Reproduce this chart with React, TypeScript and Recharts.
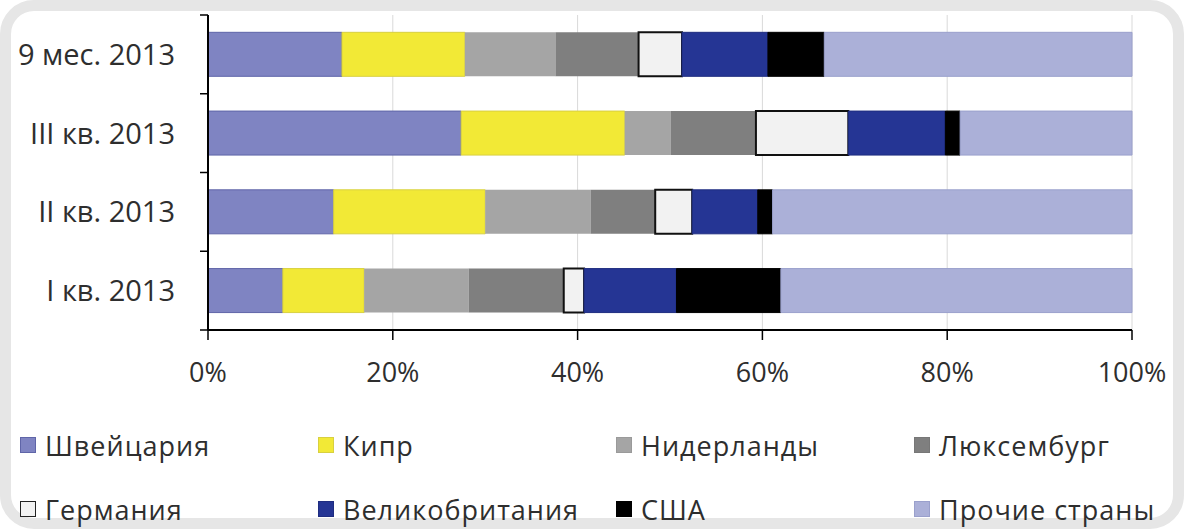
import React from "react";
import { Bar, BarChart, CartesianGrid, Legend, XAxis, YAxis } from "recharts";

const periods = ["9 мес. 2013", "III кв. 2013", "II кв. 2013", "I кв. 2013"];

const countries = [
  "Швейцария",
  "Кипр",
  "Нидерланды",
  "Люксембург",
  "Германия",
  "Великобритания",
  "США",
  "Прочие страны",
];

// shares by period, in the same order as periods
const switzerland = [14.5, 27.4, 13.6, 8.1];
const cyprus = [13.3, 17.7, 16.4, 8.8];
const netherlands = [9.8, 5.0, 11.4, 11.3];
const luxembourg = [9.0, 9.2, 7.0, 10.3];
const germany = [4.7, 10.0, 4.0, 2.2];
const britain = [9.3, 10.5, 7.1, 10.0];
const usa = [6.1, 1.6, 1.6, 11.3];
const others = [33.3, 18.6, 38.9, 38.0];

const xTicks = [0, 20, 40, 60, 80, 100];

const values = [switzerland, cyprus, netherlands, luxembourg, germany, britain, usa, others];
const fills = ["#7f84c2", "#f2e936", "#a5a5a5", "#7f7f7f", "#f2f2f2", "#253594", "#000000", "#abb0d8"];
const strokes = ["#5f65a8", "#d8d040", "#9a9a9a", "#777777", "#111111", "#1f2d80", "#000000", "#9aa0cc"];
const strokeWidths = [1, 1, 0, 0, 2, 1, 1, 1];

const data = periods.map((period, i) => {
  const row: Record<string, string | number> = { period };
  countries.forEach((c, k) => {
    row[c] = values[k][i];
  });
  return row;
});

const font = "'Open Sans', 'Noto Sans', sans-serif";
const textColor = "#2e2e2e";
const yTickSize = 8;
const yTickMargin = 25;

// category label plus the small tick marks between categories
function PeriodTick(props: any) {
  const { x, y, payload, index, visibleTicksCount, height } = props;
  const band = height / visibleTicksCount;
  const lineX1 = x + yTickMargin;
  const lineX2 = lineX1 + yTickSize;
  return (
    <g>
      <line x1={lineX1} x2={lineX2} y1={y - band / 2} y2={y - band / 2} stroke="#000" strokeWidth={1.5} />
      {index === visibleTicksCount - 1 && (
        <line x1={lineX1} x2={lineX2} y1={y + band / 2} y2={y + band / 2} stroke="#000" strokeWidth={1.5} />
      )}
      <text x={x} y={y} dy="0.36em" textAnchor="end" fill={textColor} fontSize={29} fontFamily={font}>
        {payload.value}
      </text>
    </g>
  );
}

function LegendGrid() {
  return (
    <div
      style={{
        display: "grid",
        gridTemplateColumns: "298px 298px 298px 280px",
        rowGap: 34,
        fontFamily: font,
        fontSize: 27,
        color: textColor,
        letterSpacing: 1,
      }}
    >
      {countries.map((c, k) => (
        <div key={c} style={{ display: "flex", alignItems: "center", height: 30 }}>
          <span
            style={{
              display: "inline-block",
              width: 16,
              height: 16,
              background: fills[k],
              border: `1.5px solid ${k === 4 ? "#222" : strokes[k]}`,
              marginRight: 9,
              boxSizing: "border-box",
            }}
          />
          {c}
        </div>
      ))}
    </div>
  );
}

export default function App() {
  return (
    <div style={{ position: "absolute", left: 0, top: 0, width: 1184, height: 529, background: "#fff" }}>
      <div
        style={{
          position: "absolute",
          left: 0,
          top: 0,
          width: 1184,
          height: 529,
          boxSizing: "border-box",
          border: "11px solid #e6e6e6",
          borderRadius: 34,
        }}
      />
      <div style={{ position: "absolute", left: 0, top: 0 }}>
        <BarChart
          width={1184}
          height={529}
          data={data}
          layout="vertical"
          barCategoryGap="22%"
          margin={{ top: 15, right: 52, bottom: 149, left: 18 }}
        >
          <CartesianGrid horizontal={false} stroke="#d9d9d9" />
          <XAxis
            type="number"
            domain={[0, 100]}
            ticks={xTicks}
            tickFormatter={(v) => `${v}%`}
            axisLine={{ stroke: "#000", strokeWidth: 2 }}
            tickLine={{ stroke: "#000", strokeWidth: 1.5 }}
            tickSize={10}
            tickMargin={23}
            height={50}
            tick={{ fill: textColor, fontSize: 27, fontFamily: font }}
          />
          <YAxis
            type="category"
            dataKey="period"
            axisLine={{ stroke: "#000", strokeWidth: 2 }}
            tickLine={false}
            tickSize={yTickSize}
            tickMargin={yTickMargin}
            width={190}
            tick={<PeriodTick />}
          />
          {countries.map((c, k) => (
            <Bar
              key={c}
              dataKey={c}
              stackId="a"
              fill={fills[k]}
              stroke={strokes[k]}
              strokeWidth={strokeWidths[k]}
              isAnimationActive={false}
            />
          ))}
          <Legend
            layout="horizontal"
            verticalAlign="middle"
            align="center"
            content={() => <LegendGrid />}
            wrapperStyle={{ top: 430, left: 20, width: 1160 }}
          />
        </BarChart>
      </div>
    </div>
  );
}
